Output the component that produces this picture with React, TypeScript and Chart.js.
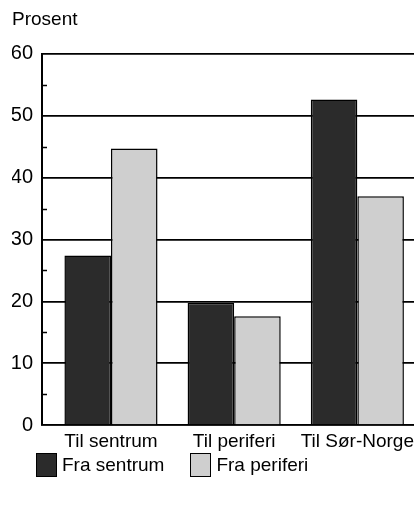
import React, { useEffect, useRef } from "react";
import { Chart, registerables } from "chart.js";

Chart.register(...registerables);

const categories = ["Til sentrum", "Til periferi", "Til Sør-Norge"];
const seriesNames = ["Fra sentrum", "Fra periferi"];
const fraSentrum = [27.4, 19.8, 52.6];
const fraPeriferi = [44.7, 17.6, 37.0];
const yMin = 0;
const yMax = 60;
const yMajorStep = 10;
const yMinorStep = 5;
const yTitle = "Prosent";
const seriesColors = ["#2b2b2b", "#cfcfcf"];

const FONT = '"Liberation Sans", Arial, Helvetica, sans-serif';
const FS = 19;

const minorTicksPlugin = {
  id: "minorTicks",
  afterDraw(chart: any) {
    const y = chart.scales.y;
    const ctx = chart.ctx;
    const left = chart.chartArea.left;
    ctx.save();
    ctx.strokeStyle = "#000";
    ctx.lineWidth = 1.5;
    y.ticks.forEach((t: any) => {
      if (t.value % yMajorStep !== 0) {
        const py = Math.round(y.getPixelForValue(t.value)) + 0.5;
        ctx.beginPath();
        ctx.moveTo(left, py);
        ctx.lineTo(left + 5, py);
        ctx.stroke();
      }
    });
    ctx.restore();
  },
};

export default function App() {
  const ref = useRef<HTMLCanvasElement | null>(null);

  useEffect(() => {
    if (!ref.current) return;
    const chart = new Chart(ref.current, {
      type: "bar",
      data: {
        labels: categories,
        datasets: [
          {
            label: seriesNames[0],
            data: fraSentrum,
            backgroundColor: seriesColors[0],
            borderColor: "#000",
            borderWidth: 1.5,
          },
          {
            label: seriesNames[1],
            data: fraPeriferi,
            backgroundColor: seriesColors[1],
            borderColor: "#000",
            borderWidth: 1.5,
          },
        ],
      },
      options: {
        responsive: false,
        maintainAspectRatio: false,
        animation: false,
        layout: { padding: { left: 12, right: 0, top: 8, bottom: 47 } },
        plugins: {
          legend: { display: false },
          tooltip: { enabled: false },
          title: {
            display: true,
            text: yTitle,
            align: "start",
            color: "#000",
            font: { family: FONT, size: FS, weight: "normal" },
            padding: { top: 0, bottom: 23 },
          },
        },
        datasets: {
          bar: { categoryPercentage: 0.756, barPercentage: 1 },
        },
        scales: {
          x: {
            offset: true,
            grid: { display: false, drawTicks: false },
            border: { display: true, color: "#000", width: 1.5 },
            ticks: {
              color: "#000",
              padding: 5,
              font: { family: FONT, size: FS },
              maxRotation: 0,
              autoSkip: false,
            },
            afterBuildTicks: (scale: any) => {
              scale._startValue = -0.56;
              scale._valueRange = 3.02;
            },
            afterFit: (scale: any) => {
              scale.paddingRight = 0;
              scale.paddingLeft = 0;
            },
          },
          y: {
            min: yMin,
            max: yMax,
            grid: {
              drawTicks: false,
              color: (c: any) =>
                c.tick && c.tick.value % yMajorStep === 0 ? "#000" : "rgba(0,0,0,0)",
              lineWidth: 1.8,
            },
            border: { display: true, color: "#000", width: 2 },
            ticks: {
              stepSize: yMinorStep,
              color: "#000",
              padding: 9,
              font: { family: FONT, size: 20 },
              callback: (v: any) => (Number(v) % yMajorStep === 0 ? String(v) : ""),
            },
            afterFit: (scale: any) => {
              scale.width = 30;
            },
          },
        },
      },
      plugins: [minorTicksPlugin],
    });
    return () => chart.destroy();
  }, []);

  return (
    <div
      style={{
        position: "absolute",
        left: 0,
        top: 0,
        width: 414,
        height: 505,
        background: "#fff",
        overflow: "hidden",
      }}
    >
      <canvas ref={ref} width={414} height={505} style={{ display: "block" }} />
      <div
        style={{
          position: "absolute",
          top: 453,
          left: 36,
          display: "flex",
          alignItems: "center",
          fontFamily: FONT,
          fontSize: FS,
          color: "#000",
          whiteSpace: "nowrap",
        }}
      >
        {seriesNames.map((name, i) => (
          <div
            key={name}
            style={{ display: "flex", alignItems: "center", marginRight: i === 0 ? 26 : 0 }}
          >
            <div
              style={{
                width: 21,
                height: 24,
                boxSizing: "border-box",
                border: "1.5px solid #000",
                background: seriesColors[i],
                marginRight: 5,
              }}
            />
            <span>{name}</span>
          </div>
        ))}
      </div>
    </div>
  );
}
